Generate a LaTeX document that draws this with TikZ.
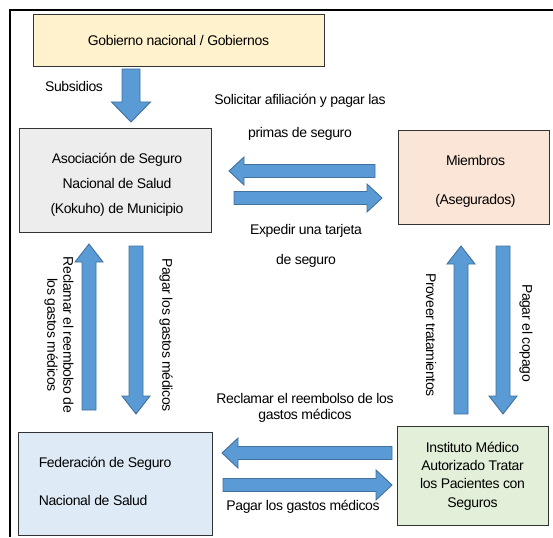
\documentclass[tikz,border=0pt]{standalone}
\usepackage{fontspec}
\setmainfont{Liberation Sans}[LetterSpace=-2.5]
\usetikzlibrary{calc}
\definecolor{gobfill}{HTML}{FFF2CC}
\definecolor{asocfill}{HTML}{EDEDED}
\definecolor{miemfill}{HTML}{FBE5D6}
\definecolor{fedfill}{HTML}{DEEBF7}
\definecolor{instfill}{HTML}{E2F0D9}
\definecolor{arrfill}{HTML}{5B9BD5}
\definecolor{arrline}{HTML}{41719C}

\tikzset{
  box/.style={draw=black!80, line width=0.9pt, inner sep=0pt, align=center},
  lbl/.style={inner sep=1pt, align=center},
  fat/.style={fill=arrfill, draw=arrline, line width=0.9pt, line join=miter},
}
% block arrow: from, to, half shaft, half head, head length
\newcommand{\fatarrow}[5]{%
  \coordinate (fabase) at ($(#2)!#5!(#1)$);
  \draw[fat] ($(#1)!#3!90:(#2)$) -- ($(fabase)!#3!90:(#2)$) -- ($(fabase)!#4!90:(#2)$)
    -- (#2) -- ($(fabase)!#4!-90:(#2)$) -- ($(fabase)!#3!-90:(#2)$) -- ($(#1)!#3!-90:(#2)$) -- cycle;
}

\begin{document}
\begin{tikzpicture}[x=1pt, y=-1pt, font=\fontsize{14}{16}\selectfont]
  \useasboundingbox (0,0) rectangle (553,537);
  \draw[line width=2.5pt, line join=miter] (553,10) -- (10,10) -- (10,537);

  % boxes
  \node[box, fill=gobfill, minimum width=291pt, minimum height=52pt] (gob) at (178.5,40) {Gobierno nacional / Gobiernos};
  \node[box, fill=asocfill, minimum width=192pt, minimum height=104pt] (asoc) at (115,180) {};
  \node[box, fill=miemfill, minimum width=151pt, minimum height=94pt] (miem) at (473.5,177) {};
  \node[box, fill=fedfill, minimum width=194pt, minimum height=103pt] (fed) at (115,483.5) {};
  \node[box, fill=instfill, minimum width=151pt, minimum height=99pt, font=\fontsize{14}{18.3}\selectfont] (inst) at (472.5,476)
    {Instituto Médico\\Autorizado Tratar\\los Pacientes con\\Seguros};

  \node[lbl, font=\fontsize{14}{25}\selectfont] (asocT) at ($(asoc)+(2,4.5)$) {Asociación de Seguro\\Nacional de Salud\\(Kokuho) de Municipio};
  \node[lbl, font=\fontsize{14}{39}\selectfont] (miemT) at ($(miem)+(2,4.5)$) {Miembros\\(Asegurados)};
  \node[lbl, font=\fontsize{14}{38}\selectfont, align=left, anchor=west] (fedT) at ($(fed.west)+(20,-2.5)$) {Federación de Seguro\\Nacional de Salud};

  % labels
  \node[lbl] (subs) at (74,86) {Subsidios};
  \node[lbl, font=\fontsize{14}{33}\selectfont] (solic) at (300,117) {Solicitar afiliación y pagar las\\primas de seguro};
  \node[lbl, font=\fontsize{14}{30}\selectfont] (exped) at (306,246) {Expedir una tarjeta\\de seguro};
  \node[lbl, rotate=-90] (reclL) at (59,335) {Reclamar el reembolso de\\los gastos médicos};
  \node[lbl, rotate=-90] (pagL) at (166,335) {Pagar los gastos médicos};
  \node[lbl, rotate=-90] (prov) at (431,335) {Proveer tratamientos};
  \node[lbl, rotate=-90] (copago) at (526,333) {Pagar el copago};
  \node[lbl] (reclB) at (305,408) {Reclamar el reembolso de los\\gastos médicos};
  \node[lbl] (pagB) at (303,507) {Pagar los gastos médicos};

  \coordinate (subsA) at (131,69);  \coordinate (subsB) at (131,122);
  \coordinate (solA) at (375,171);  \coordinate (solB) at (229,171);
  \coordinate (expA) at (234,198);  \coordinate (expB) at (382,198);
  \coordinate (recA) at (89,410);   \coordinate (recB) at (89,244);
  \coordinate (pagA) at (136,246);  \coordinate (pagB2) at (136,414);
  \coordinate (provA) at (461,414); \coordinate (provB) at (461,246);
  \coordinate (copA) at (503,246);  \coordinate (copB) at (503,414);
  \coordinate (rbA) at (392,453);   \coordinate (rbB) at (222,453);
  \coordinate (pbA) at (223,485);   \coordinate (pbB) at (392,485);

  % block arrows
  \fatarrow{subsA}{subsB}{9pt}{19.5pt}{20pt}
  \fatarrow{solA}{solB}{6.5pt}{14pt}{15pt}
  \fatarrow{expA}{expB}{6.5pt}{14pt}{15pt}
  \fatarrow{recA}{recB}{7pt}{14pt}{18pt}
  \fatarrow{pagA}{pagB2}{7pt}{14pt}{18pt}
  \fatarrow{provA}{provB}{7pt}{14pt}{18pt}
  \fatarrow{copA}{copB}{7pt}{14pt}{18pt}
  \fatarrow{rbA}{rbB}{6.5pt}{15pt}{16pt}
  \fatarrow{pbA}{pbB}{6.5pt}{15pt}{16pt}
\end{tikzpicture}
\end{document}
